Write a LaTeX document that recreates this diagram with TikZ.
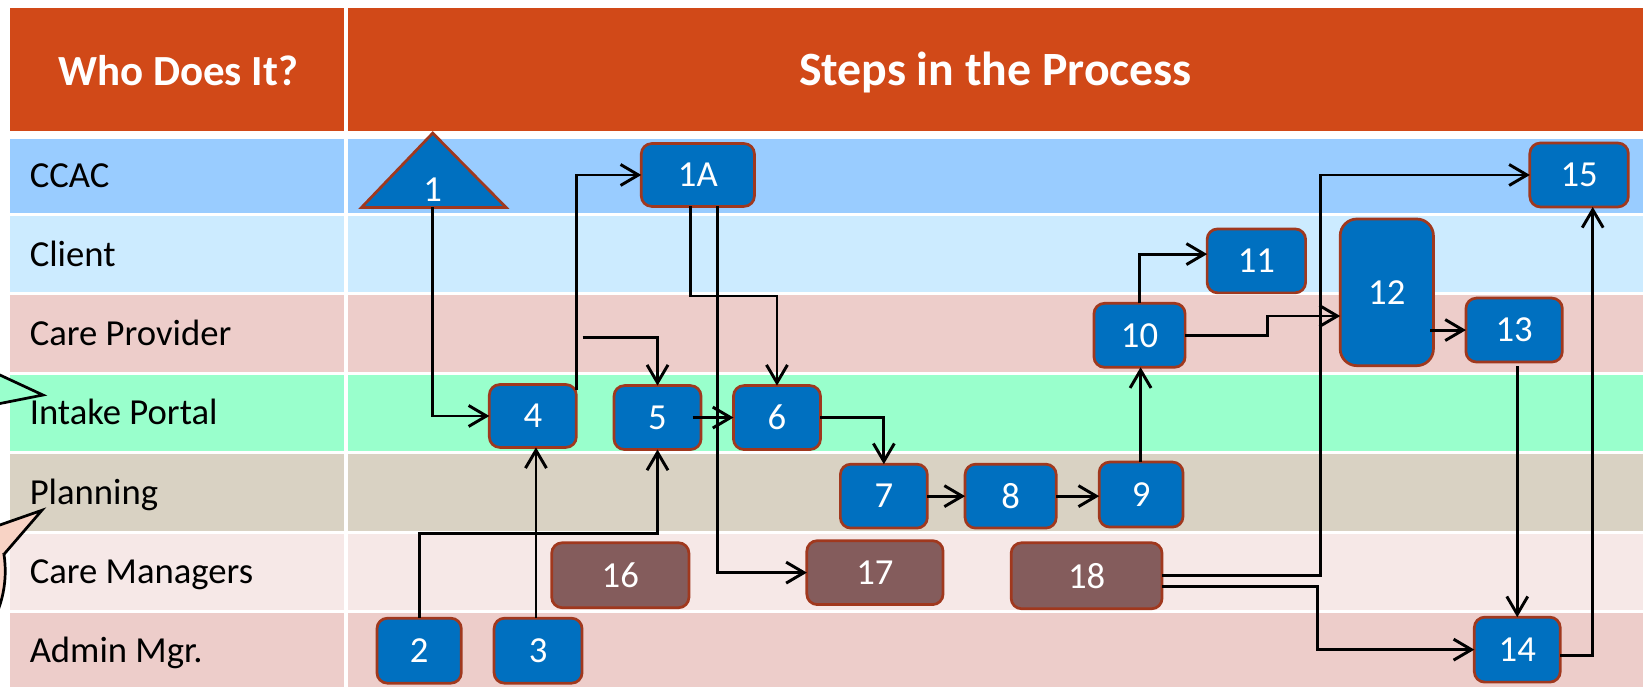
\documentclass[tikz,border=0pt]{standalone}
\usepackage{fontspec}
\setmainfont{Carlito}
\usetikzlibrary{arrows.meta,calc}
\definecolor{hdr}{RGB}{209,73,24}
\definecolor{rowA}{RGB}{153,204,255}
\definecolor{rowB}{RGB}{204,235,255}
\definecolor{rowC}{RGB}{237,205,202}
\definecolor{rowD}{RGB}{153,255,204}
\definecolor{rowE}{RGB}{217,210,195}
\definecolor{rowF}{RGB}{246,232,231}
\definecolor{boxblue}{RGB}{0,112,192}
\definecolor{boxbrown}{RGB}{132,92,92}
\definecolor{boxedge}{RGB}{160,56,30}
\definecolor{peach}{RGB}{248,211,197}
\tikzset{
  bbox/.style={draw=boxedge, line width=1.3pt, fill=boxblue, rounded corners=5pt, text=white,
    font=\fontsize{17.5}{20}\selectfont, inner sep=0pt, outer sep=0pt},
  gbox/.style={bbox, fill=boxbrown},
  arr/.style={draw=black, line width=1.4pt, -{Straight Barb[length=8.5pt,width=10pt]}},
  lane/.style={font=\fontsize{17.5}{20}\selectfont, anchor=base west, inner sep=0pt},
  hdrtxt/.style={font=\bfseries\fontsize{20.5}{24}\selectfont, text=white, anchor=base, inner sep=0pt},
}
\begin{document}
\begin{tikzpicture}[x=0.5pt,y=-0.5pt]
\useasboundingbox (0,0) rectangle (1568,656);
% header
\fill[hdr] (10,8) rectangle (328,125);
\fill[hdr] (332,8) rectangle (1568,125);
\node[hdrtxt] (h1) at (170,82) {Who Does It?};
\node[hdrtxt, font=\bfseries\fontsize{22.8}{26}\selectfont] (h2) at (950,82) {Steps in the Process};
% lanes
\foreach \t/\b/\c in {132.5/203/rowA, 206/279/rowB, 282/355/rowC, 357.5/430.5/rowD,
                       433.5/506.5/rowE, 509.5/582/rowF, 585/656/rowC} {
  \fill[\c] (10,\t) rectangle (328,\b);
  \fill[\c] (332,\t) rectangle (1568,\b);
}
\node[lane] (lA) at (28,179.25) {CCAC};
\node[lane] (lB) at (28,254) {Client};
\node[lane] (lC) at (28,330) {Care Provider};
\node[lane] (lD) at (28,405.5) {Intake Portal};
\node[lane] (lE) at (28,481.5) {Planning};
\node[lane] (lF) at (28,557.25) {Care Managers};
\node[lane] (lG) at (28,632) {Admin Mgr.};
% callouts at the left edge
\begin{scope}
\clip (0,0) rectangle (1568,656);
\fill[rowD] (-30,344) -- (41,377) -- (-30,391) -- cycle;
\draw[line width=1.3pt] (-30,344) -- (41,377) -- (-30,391);
\draw[line width=1.3pt, fill=peach] (-100,545) circle[radius=52.5pt];
\fill[peach] (-20,508) -- (40,487) -- (3.8,529) -- cycle;
\draw[line width=1.3pt] (-20,508) -- (40,487) -- (3.8,529);
\end{scope}
% triangle 1
\draw[draw=boxedge, line width=1.3pt, fill=boxblue] (413,127) -- (483,198) -- (345,198) -- cycle;
\node[text=white, font=\fontsize{17.5}{20}\selectfont, inner sep=0pt] (t1) at (413,181) {1};
\coordinate (t1b) at (413,198);
% boxes
\node[bbox, minimum width=54pt, minimum height=30pt] (n1A) at (666,167) {1A};
\node[bbox, minimum width=40.25pt, minimum height=31pt] (n2) at (400,621) {2};
\node[bbox, minimum width=42pt, minimum height=31pt] (n3) at (513.5,621) {3};
\node[bbox, minimum width=41.5pt, minimum height=30pt] (n4) at (508.5,397) {4};
\node[bbox, minimum width=41.5pt, minimum height=30.5pt] (n5) at (627.5,398.5) {5};
\node[bbox, minimum width=41.5pt, minimum height=30.5pt] (n6) at (741.5,398.5) {6};
\node[bbox, minimum width=41.5pt, minimum height=30.5pt] (n7) at (843.5,473.5) {7};
\node[bbox, minimum width=43.5pt, minimum height=30.5pt] (n8) at (964.5,473.5) {8};
\node[bbox, minimum width=40pt, minimum height=31pt] (n9) at (1089,472) {9};
\node[bbox, minimum width=43.5pt, minimum height=30.5pt] (n10) at (1087.5,320) {10};
\node[bbox, minimum width=47pt, minimum height=30.5pt] (n11) at (1199,249) {11};
\node[bbox, minimum width=44.5pt, minimum height=70pt, rounded corners=8pt] (n12) at (1323.5,279) {12};
\node[bbox, minimum width=46pt, minimum height=30.5pt] (n13) at (1445,315) {13};
\node[bbox, minimum width=41pt, minimum height=31pt] (n14) at (1448,620) {14};
\node[bbox, minimum width=47pt, minimum height=30.5pt] (n15) at (1507,167) {15};
\node[gbox, minimum width=65.5pt, minimum height=31pt] (n16) at (592,549) {16};
\node[gbox, minimum width=65pt, minimum height=30.5pt] (n17) at (835,546.5) {17};
\node[gbox, minimum width=72pt, minimum height=31.5pt] (n18) at (1037,549.5) {18};
% connectors
\draw[arr] (t1b) |- (n4.west);
\draw[arr] ($(n4.north east)+(0,5)$) |- (n1A.west);
\coordinate (b5) at (556,322);
\draw[arr] (b5) -| (n5.north);
\draw[arr] ($(n1A.south)+(-7,0)$) -- ++(0,85.5) -| (n6.north);
\draw[arr] ($(n1A.south)+(18.5,0)$) |- (n17.west);
\draw[arr] ($(n5.east)+(-8,0)$) -- (n6.west);
\draw[arr] (n6.east) -| (n7.north);
\draw[arr] (n7.east) -- (n8.west);
\draw[arr] (n8.east) -- (n8.east -| n9.west);
\coordinate (c9) at ($(n9.north)+(-0.5,0)$);
\draw[arr] (c9) -- (c9 |- n10.south);
\draw[arr] (n10.north) |- ($(n11.west)+(0,-6.5)$);
\draw[arr] (n10.east) -- ++(79,0) |- ($(n12.west)+(0,22.6)$);
\draw[arr] ($(n12.east |- n13.west)+(-3,0)$) -- (n13.west);
\draw[arr] ($(n13.south -| n14.north)+(0,4)$) -- (n14.north);
\draw[arr] ($(n14.east)+(0,6)$) -| ($(n15.south)+(13,0)$);
\draw[arr] (n18.east) -- ++(151,0) |- (n15.west);
\draw[arr] ($(n18.east)+(0,10)$) -- ++(148.5,0) |- (n14.west);
\draw[arr] (n2.north) -- ++(0,-80.7) -| (n5.south);
\coordinate (c3) at ($(n3.north)+(-2,0)$);
\draw[arr] (c3) -- (c3 |- n4.south);
\end{tikzpicture}
\end{document}
